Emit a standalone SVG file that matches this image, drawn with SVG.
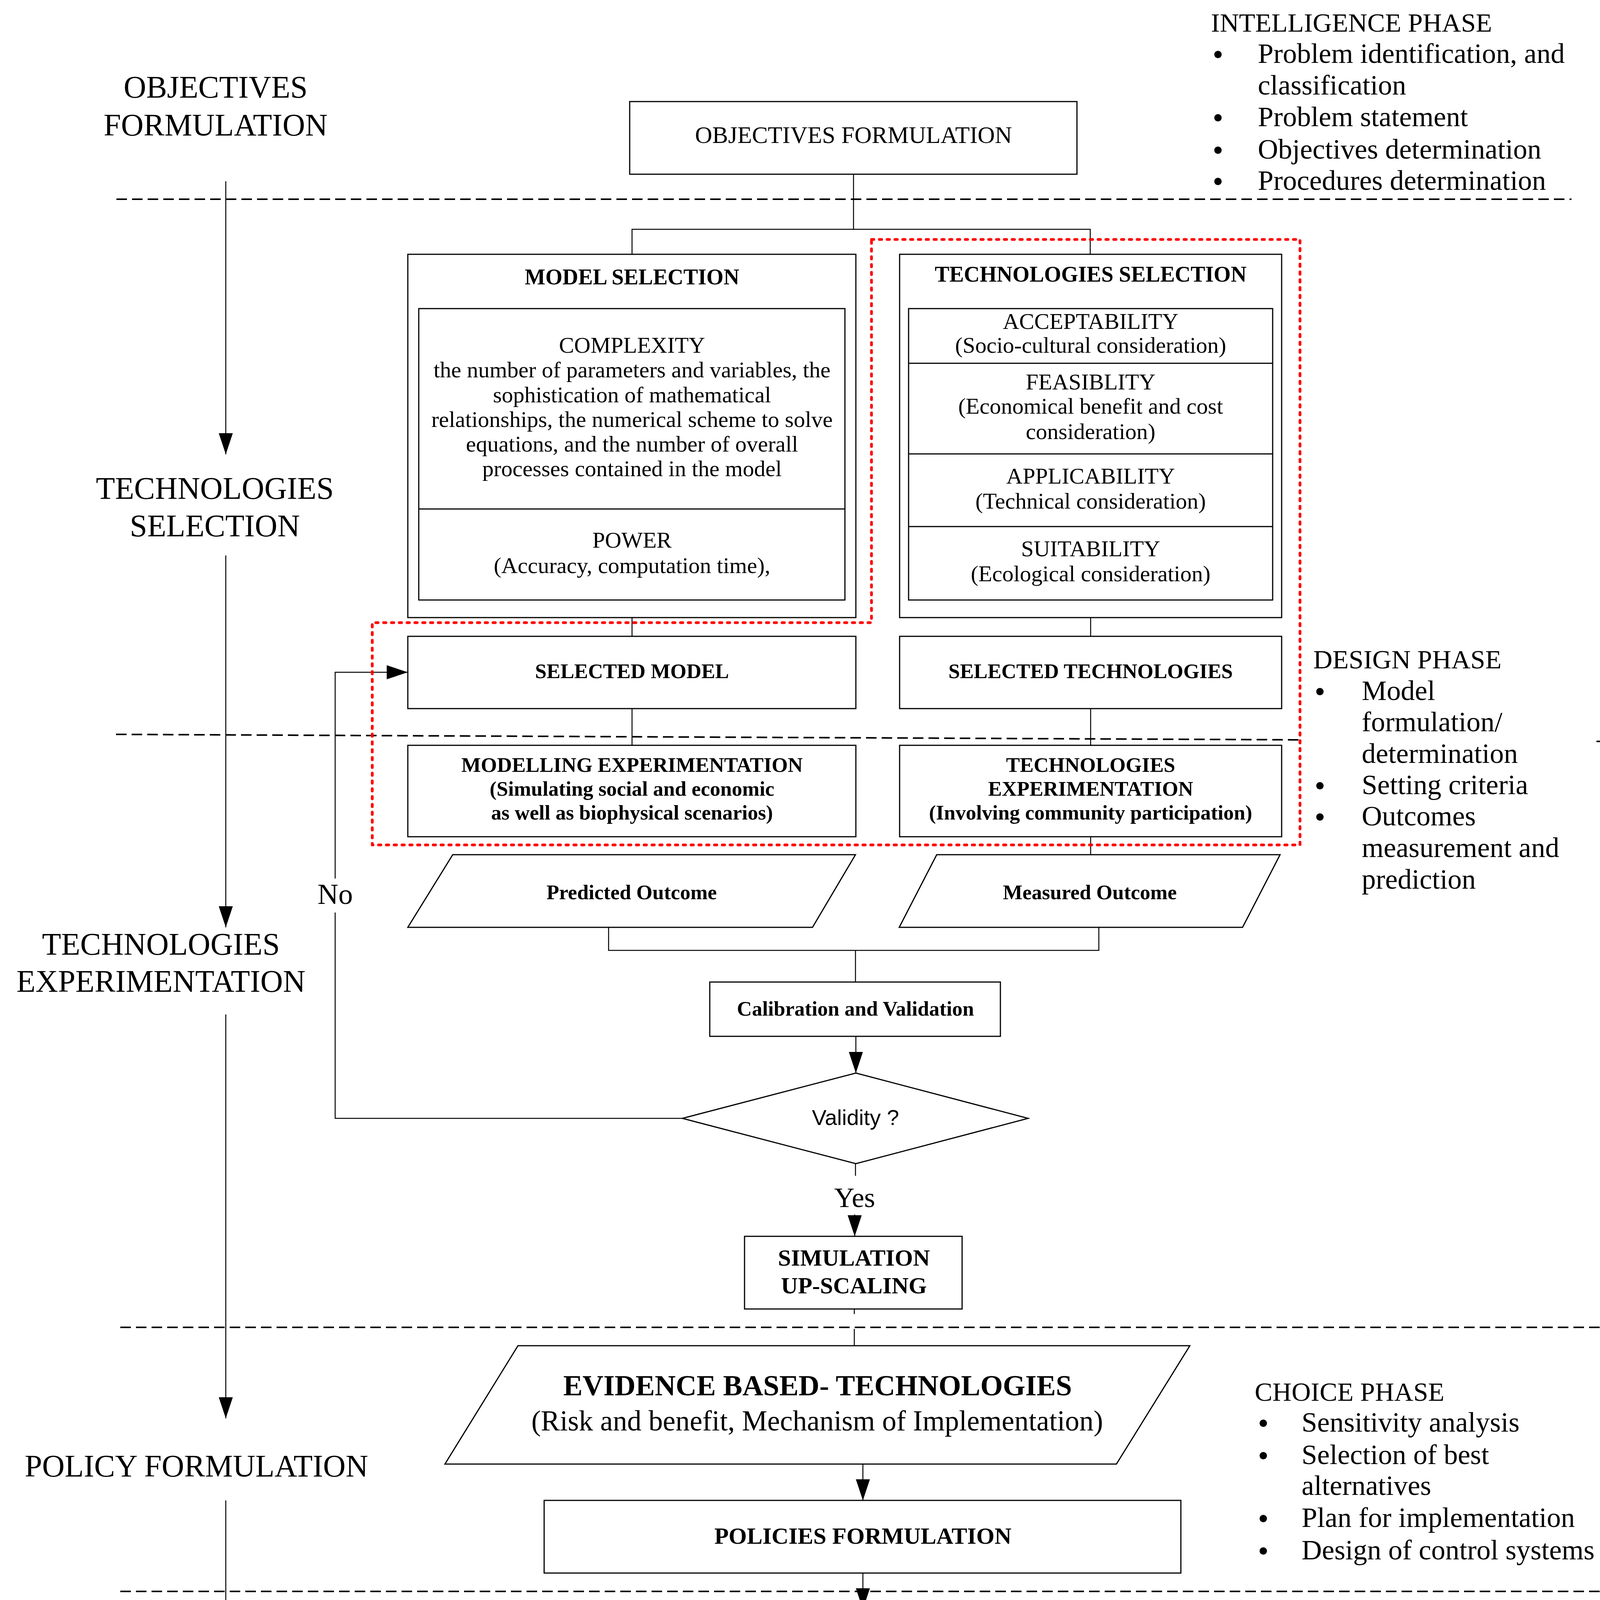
<svg xmlns="http://www.w3.org/2000/svg" width="4308" height="4380" viewBox="0 0 4308 4380">
<defs>
<marker id="arr" viewBox="0 0 54 36" refX="54" refY="18" markerWidth="54" markerHeight="36" orient="auto" markerUnits="userSpaceOnUse">
<path d="M0,0 L54,18 L0,36 z" fill="#000"/>
</marker>
<style>
.box{fill:#fff;stroke:#000;stroke-width:3}
.in{fill:none;stroke:#000;stroke-width:3}
.ln{fill:none;stroke:#000;stroke-width:2.5}
.sep{fill:none;stroke:#000;stroke-width:4;stroke-dasharray:27 13}
.part{fill:none;stroke:#ff0000;stroke-width:7;stroke-dasharray:6 14;stroke-linecap:round;stroke-linejoin:round}
.leg{fill:none;stroke:#ff0000;stroke-width:5;stroke-dasharray:38 20}
text{font-family:"Liberation Serif","Times New Roman",serif;fill:#000}
.lab{font-size:80px;text-anchor:middle}
.ph{font-size:68px}
.bl{font-size:72px}
.bu{font-size:70px;font-weight:bold;text-anchor:middle}
.body{font-size:58px;text-anchor:middle}
.ttl{font-size:56px;font-weight:bold;text-anchor:middle}
.bb{font-size:53px;font-weight:bold;text-anchor:middle}
.bb2{font-size:60px;font-weight:bold;text-anchor:middle}
.sans{font-family:"Liberation Sans",Arial,sans-serif}
</style>
</defs>
<rect x="0" y="0" width="4308" height="4380" fill="#fff"/>

<g id="separators">
<line class="sep" x1="298" y1="510" x2="4023" y2="510"/>
<line class="sep" x1="297" y1="1880" x2="3328" y2="1894"/>
<line class="sep" x1="4087" y1="1898" x2="4271" y2="1898"/>
<line class="sep" x1="308" y1="3398" x2="4121" y2="3398"/>
<line class="sep" x1="308" y1="4074" x2="4121" y2="4074"/>
</g>

<g id="phase-labels">
<text class="lab" x="552" y="250">OBJECTIVES</text>
<text class="lab" x="552" y="347">FORMULATION</text>
<text class="lab" x="550" y="1277">TECHNOLOGIES</text>
<text class="lab" x="550" y="1373">SELECTION</text>
<text class="lab" x="412" y="2444">TECHNOLOGIES</text>
<text class="lab" x="412" y="2539">EXPERIMENTATION</text>
<text class="lab" x="503" y="3780">POLICY FORMULATION</text>
<text class="lab" x="481" y="4286">IMPLEMENTATION</text>
</g>

<g id="phase-arrows">
<line class="ln" x1="578" y1="464" x2="578" y2="1163" marker-end="url(#arr)"/>
<line class="ln" x1="578" y1="1422" x2="578" y2="2374" marker-end="url(#arr)"/>
<line class="ln" x1="578" y1="2597" x2="578" y2="3631" marker-end="url(#arr)"/>
<line class="ln" x1="578" y1="3841" x2="578" y2="4166" marker-end="url(#arr)"/>
</g>

<g id="intelligence-phase">
<text class="ph" x="3100" y="81">INTELLIGENCE PHASE</text>
<text class="bu" x="3118" y="163">•</text>
<text class="bl" x="3220" y="161">Problem identification, and</text>
<text class="bl" x="3220" y="242">classification</text>
<text class="bu" x="3118" y="325">•</text>
<text class="bl" x="3220" y="323">Problem statement</text>
<text class="bu" x="3118" y="408">•</text>
<text class="bl" x="3220" y="406">Objectives determination</text>
<text class="bu" x="3118" y="488">•</text>
<text class="bl" x="3220" y="486">Procedures determination</text>
</g>

<g id="design-phase">
<text class="ph" x="3362" y="1711">DESIGN PHASE</text>
<text class="bu" x="3379" y="1794">•</text>
<text class="bl" x="3486" y="1792">Model</text>
<text class="bl" x="3486" y="1872">formulation/</text>
<text class="bl" x="3486" y="1953">determination</text>
<text class="bu" x="3379" y="2035">•</text>
<text class="bl" x="3486" y="2033">Setting criteria</text>
<text class="bu" x="3379" y="2115">•</text>
<text class="bl" x="3486" y="2113">Outcomes</text>
<text class="bl" x="3486" y="2194">measurement and</text>
<text class="bl" x="3486" y="2275">prediction</text>
</g>

<g id="choice-phase">
<text class="ph" x="3212" y="3586">CHOICE PHASE</text>
<text class="bu" x="3234" y="3667">•</text>
<text class="bl" x="3332" y="3665">Sensitivity analysis</text>
<text class="bu" x="3234" y="3750">•</text>
<text class="bl" x="3332" y="3748">Selection of best</text>
<text class="bl" x="3332" y="3827">alternatives</text>
<text class="bu" x="3234" y="3911">•</text>
<text class="bl" x="3332" y="3909">Plan for implementation</text>
<text class="bu" x="3234" y="3994">•</text>
<text class="bl" x="3332" y="3992">Design of control systems</text>
</g>

<g id="connectors">
<polyline class="ln" points="2185,446 2185,587"/>
<polyline class="ln" points="1618,651 1618,587 2791,587 2791,651"/>
<line class="ln" x1="1618" y1="1581" x2="1618" y2="1629"/>
<line class="ln" x1="2792" y1="1581" x2="2792" y2="1629"/>
<line class="ln" x1="1618" y1="1814" x2="1618" y2="1908"/>
<line class="ln" x1="2792" y1="1814" x2="2792" y2="1908"/>
<line class="ln" x1="2792" y1="2142" x2="2792" y2="2188"/>
<polyline class="ln" points="1558,2374 1558,2433 2813,2433 2813,2374"/>
<line class="ln" x1="2190" y1="2433" x2="2190" y2="2514"/>
<line class="ln" x1="2191" y1="2653" x2="2191" y2="2747" marker-end="url(#arr)"/>
<polyline class="ln" points="1747,2863 858,2863 858,2336"/>
<polyline class="ln" points="858,2249 858,1721 1044,1721" marker-end="url(#arr)"/>
<line class="ln" x1="2190" y1="2979" x2="2190" y2="3010"/>
<line class="ln" x1="2188" y1="3109" x2="2188" y2="3165" marker-end="url(#arr)"/>
<line class="ln" x1="2187" y1="3351" x2="2187" y2="3364"/>
<line class="ln" x1="2187" y1="3402" x2="2187" y2="3445"/>
<line class="ln" x1="2209" y1="3748" x2="2209" y2="3841" marker-end="url(#arr)"/>
<line class="ln" x1="2209" y1="4027" x2="2209" y2="4120" marker-end="url(#arr)"/>
<text class="lab" x="858" y="2314" style="font-size:74px">No</text>
<text class="lab" x="2188" y="3090" style="font-size:72px">Yes</text>
</g>

<g id="objectives-formulation">
<rect class="box" x="1612" y="260" width="1145" height="186"/>
<text x="2185" y="366" style="font-size:61px;text-anchor:middle">OBJECTIVES FORMULATION</text>
</g>

<g id="model-selection">
<rect class="box" x="1044" y="651" width="1147" height="930"/>
<text class="ttl" x="1618" y="728">MODEL SELECTION</text>
<rect class="in" x="1072" y="790" width="1091" height="746"/>
<line class="in" x1="1072" y1="1303" x2="2163" y2="1303"/>
<text class="body" x="1618" y="903">COMPLEXITY</text>
<text class="body" x="1618" y="966">the number of parameters and variables, the</text>
<text class="body" x="1618" y="1030">sophistication of mathematical</text>
<text class="body" x="1618" y="1093">relationships, the numerical scheme to solve</text>
<text class="body" x="1618" y="1156">equations, and the number of overall</text>
<text class="body" x="1618" y="1219">processes contained in the model</text>
<text class="body" x="1618" y="1402">POWER</text>
<text class="body" x="1618" y="1467">(Accuracy, computation time),</text>
</g>

<g id="technologies-selection">
<rect class="box" x="2303" y="651" width="978" height="930"/>
<text class="ttl" x="2792" y="721">TECHNOLOGIES SELECTION</text>
<rect class="in" x="2326" y="790" width="932" height="746"/>
<line class="in" x1="2326" y1="930" x2="3258" y2="930"/>
<line class="in" x1="2326" y1="1162" x2="3258" y2="1162"/>
<line class="in" x1="2326" y1="1348" x2="3258" y2="1348"/>
<text class="body" x="2792" y="842">ACCEPTABILITY</text>
<text class="body" x="2792" y="903">(Socio-cultural consideration)</text>
<text class="body" x="2792" y="997">FEASIBLITY</text>
<text class="body" x="2792" y="1059">(Economical benefit and cost</text>
<text class="body" x="2792" y="1124">consideration)</text>
<text class="body" x="2792" y="1238">APPLICABILITY</text>
<text class="body" x="2792" y="1302">(Technical consideration)</text>
<text class="body" x="2792" y="1424">SUITABILITY</text>
<text class="body" x="2792" y="1488">(Ecological consideration)</text>
</g>

<g id="selected-model">
<rect class="box" x="1044" y="1629" width="1147" height="185"/>
<text class="bb" x="1618" y="1736">SELECTED MODEL</text>
</g>

<g id="selected-technologies">
<rect class="box" x="2303" y="1629" width="978" height="185"/>
<text class="bb" x="2792" y="1736">SELECTED TECHNOLOGIES</text>
</g>

<g id="modelling-experimentation">
<rect class="box" x="1044" y="1908" width="1147" height="234"/>
<text class="bb" x="1618" y="1976">MODELLING EXPERIMENTATION</text>
<text class="bb" x="1618" y="2037">(Simulating social and economic</text>
<text class="bb" x="1618" y="2098">as well as biophysical scenarios)</text>
</g>

<g id="technologies-experimentation">
<rect class="box" x="2303" y="1908" width="978" height="234"/>
<text class="bb" x="2792" y="1976">TECHNOLOGIES</text>
<text class="bb" x="2792" y="2037">EXPERIMENTATION</text>
<text class="bb" x="2792" y="2098">(Involving community participation)</text>
</g>

<g id="participatory-boundary">
<polygon class="part" points="2231,613 3328,613 3328,2163 953,2163 953,1594 2231,1594"/>
</g>

<g id="predicted-outcome">
<polygon class="box" points="1159,2188 2190,2188 2080,2374 1044,2374"/>
<text class="bb" x="1617" y="2302">Predicted Outcome</text>
</g>

<g id="measured-outcome">
<polygon class="box" points="2398,2188 3277,2188 3181,2374 2302,2374"/>
<text class="bb" x="2790" y="2302">Measured Outcome</text>
</g>

<g id="calibration-validation">
<rect class="box" x="1817" y="2514" width="744" height="139"/>
<text class="bb" x="2190" y="2600">Calibration and Validation</text>
</g>

<g id="validity">
<polygon class="box" points="2191,2747 2632,2863 2191,2979 1747,2863"/>
<text class="sans" x="2190" y="2880" style="font-size:56px;text-anchor:middle">Validity ?</text>
</g>

<g id="simulation-upscaling">
<rect class="box" x="1906" y="3165" width="557" height="186"/>
<text class="bb2" x="2186" y="3240">SIMULATION</text>
<text class="bb2" x="2186" y="3311">UP-SCALING</text>
</g>

<g id="evidence-based-technologies">
<polygon class="box" points="1326,3445 3046,3445 2858,3748 1139,3748"/>
<text x="2093" y="3572" style="font-size:74px;font-weight:bold;text-anchor:middle">EVIDENCE BASED- TECHNOLOGIES</text>
<text x="2092" y="3662" style="font-size:73px;text-anchor:middle">(Risk and benefit, Mechanism of Implementation)</text>
</g>

<g id="policies-formulation">
<rect class="box" x="1393" y="3841" width="1630" height="186"/>
<text class="bb2" x="2209" y="3952">POLICIES FORMULATION</text>
</g>

<g id="implementation">
<rect class="box" x="1393" y="4120" width="1630" height="187"/>
<text class="bb2" x="2209" y="4233">IMPLEMENTATION</text>
</g>

<g id="legend">
<rect class="leg" x="3225" y="4121" width="299" height="224"/>
<text class="sans" x="3580" y="4243" style="font-size:72px">Participatory</text>
</g>
</svg>
